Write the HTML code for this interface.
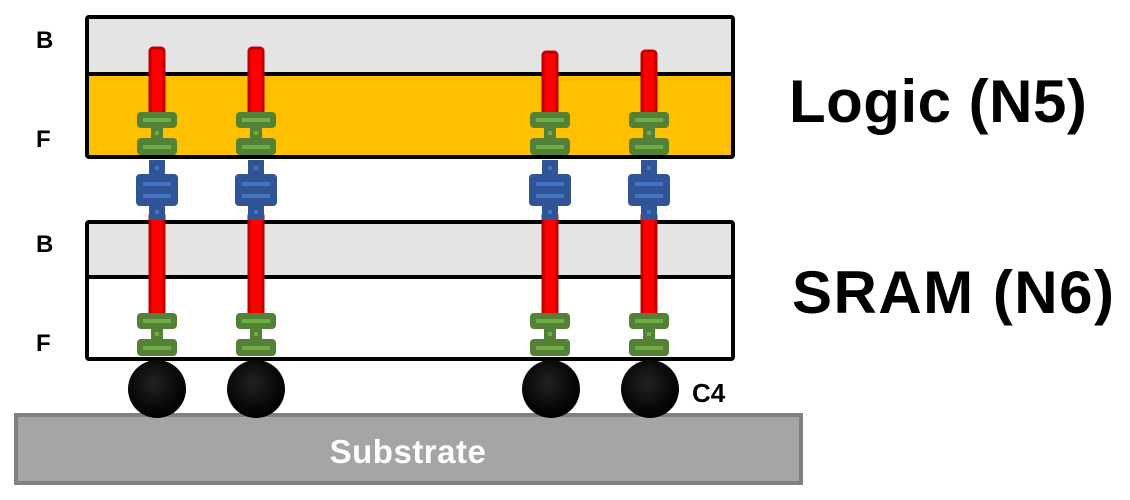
<!DOCTYPE html>
<html><head><meta charset="utf-8"><style>
html,body{margin:0;padding:0;background:#fff;}
svg{display:block;}
text{font-family:"Liberation Sans",sans-serif;font-weight:bold;}
</style></head><body>
<svg width="1130" height="500" viewBox="0 0 1130 500" xmlns="http://www.w3.org/2000/svg">
<defs>
<radialGradient id="ball" cx="0.45" cy="0.4" r="0.6">
<stop offset="0" stop-color="#222"/><stop offset="0.8" stop-color="#050505"/><stop offset="1" stop-color="#000"/>
</radialGradient>
<g id="green">
<rect x="-8" y="0" width="16" height="5" fill="#538135"/>
<rect x="-20" y="0" width="40" height="16" rx="4" fill="#538135"/>
<rect x="-6" y="14" width="12" height="14" fill="#538135"/>
<rect x="-20" y="26" width="40" height="17" rx="4" fill="#538135"/>
<rect x="-14" y="6" width="28" height="4" fill="#70ad47"/>
<rect x="-2" y="19" width="4" height="4" fill="#70ad47"/>
<rect x="-14" y="33" width="28" height="4" fill="#70ad47"/>
</g>
<g id="blue">
<rect x="-8" y="0" width="16" height="60" fill="#2f5597"/>
<rect x="-21" y="14" width="42" height="32" rx="4" fill="#2f5597"/>
<rect x="-14" y="22" width="28" height="4" fill="#4472c4"/>
<rect x="-14" y="34" width="28" height="4" fill="#4472c4"/>
<rect x="-2" y="6" width="4" height="4" fill="#4472c4"/>
<rect x="-2" y="50" width="4" height="4" fill="#4472c4"/>
</g>
</defs>
<rect x="87" y="17" width="646" height="57" fill="#e4e4e4"/>
<rect x="87" y="74" width="646" height="83" fill="#ffc000"/>
<rect x="87" y="17" width="646" height="140" fill="none" stroke="#000" stroke-width="4" rx="2"/>
<line x1="87" y1="74" x2="733" y2="74" stroke="#000" stroke-width="4"/>
<rect x="87" y="222" width="646" height="55" fill="#e4e4e4"/>
<rect x="87" y="222" width="646" height="137" fill="none" stroke="#000" stroke-width="4" rx="2"/>
<line x1="87" y1="277" x2="733" y2="277" stroke="#000" stroke-width="4"/>
<rect x="16" y="415" width="785" height="68" fill="#a5a5a5" stroke="#808080" stroke-width="4"/>
<text x="408" y="463" font-size="33" fill="#fff" text-anchor="middle" letter-spacing="0.5">Substrate</text>
<g>
<rect x="150" y="48" width="14" height="66" rx="3" fill="#ff0000" stroke="#c00000" stroke-width="3"/>
<rect x="249" y="48" width="14" height="66" rx="3" fill="#ff0000" stroke="#c00000" stroke-width="3"/>
<rect x="543" y="52" width="14" height="62" rx="3" fill="#ff0000" stroke="#c00000" stroke-width="3"/>
<rect x="642" y="51" width="14" height="63" rx="3" fill="#ff0000" stroke="#c00000" stroke-width="3"/>
<rect x="150" y="216" width="14" height="100" fill="#ff0000" stroke="#c00000" stroke-width="3"/>
<rect x="249" y="216" width="14" height="100" fill="#ff0000" stroke="#c00000" stroke-width="3"/>
<rect x="543" y="216" width="14" height="100" fill="#ff0000" stroke="#c00000" stroke-width="3"/>
<rect x="642" y="216" width="14" height="100" fill="#ff0000" stroke="#c00000" stroke-width="3"/>
<use href="#green" x="157" y="112"/><use href="#green" x="256" y="112"/><use href="#green" x="550" y="112"/><use href="#green" x="649" y="112"/>
<use href="#blue" x="157" y="160"/><use href="#blue" x="256" y="160"/><use href="#blue" x="550" y="160"/><use href="#blue" x="649" y="160"/>
<use href="#green" x="157" y="313"/><use href="#green" x="256" y="313"/><use href="#green" x="550" y="313"/><use href="#green" x="649" y="313"/>
</g>
<circle cx="157" cy="389" r="29" fill="url(#ball)"/>
<circle cx="256" cy="389" r="29" fill="url(#ball)"/>
<circle cx="551" cy="389" r="29" fill="url(#ball)"/>
<circle cx="650" cy="389" r="29" fill="url(#ball)"/>
<text x="36" y="48" font-size="24">B</text>
<text x="36" y="147" font-size="24">F</text>
<text x="36" y="252" font-size="24">B</text>
<text x="36" y="351" font-size="24">F</text>
<text x="692" y="402" font-size="26">C4</text>
<text x="789" y="122" font-size="60" letter-spacing="0.5">Logic (N5)</text>
<text x="792" y="313" font-size="60" letter-spacing="1.5">SRAM (N6)</text>
</svg>
</body></html>
